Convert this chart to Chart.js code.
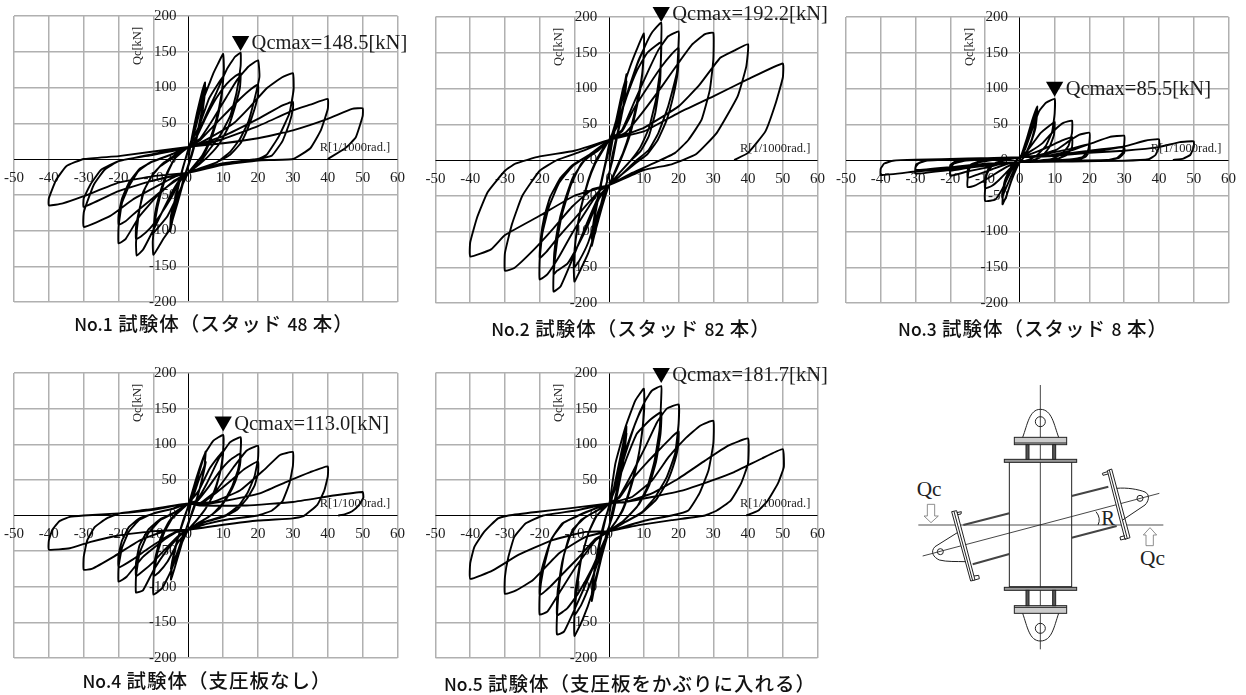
<!DOCTYPE html>
<html lang="ja">
<head>
<meta charset="utf-8">
<title>試験体 Qc-R</title>
<script src="https://cdn.jsdelivr.net/npm/chart.js@4"></script>
<style>
  html, body { margin: 0; padding: 0; background: #fff; }
  body { position: relative; width: 1246px; height: 695px; overflow: hidden; }
  canvas { position: absolute; }
  .caption {
    position: absolute; transform: translate(-50%, -50%); white-space: nowrap;
    font: 500 19.5px "Noto Sans CJK JP", "Noto Sans", sans-serif; letter-spacing: 1px; color: #111;
  }
  .caption span { font-size: 17.5px; letter-spacing: 0; }
  #diagram { position: absolute; left: 900px; top: 370px; }
  #diagram text { font-family: "Liberation Serif", serif; fill: #222; }
</style>
</head>
<body>
<canvas id="c1" width="427" height="320" style="left:-12px;top:0"></canvas>
<canvas id="c2" width="420" height="320" style="left:415px;top:0"></canvas>
<canvas id="c3" width="426" height="320" style="left:820px;top:0"></canvas>
<canvas id="c4" width="427" height="320" style="left:-12px;top:355px"></canvas>
<canvas id="c5" width="420" height="320" style="left:415px;top:355px"></canvas>

<div class="caption" style="left:214px;top:322px"><span>No.1</span> 試験体（スタッド <span>48</span> 本）</div>
<div class="caption" style="left:631px;top:327px"><span>No.2</span> 試験体（スタッド <span>82</span> 本）</div>
<div class="caption" style="left:1033px;top:327px"><span>No.3</span> 試験体（スタッド <span>8</span> 本）</div>
<div class="caption" style="left:207px;top:679px"><span>No.4</span> 試験体（支圧板なし）</div>
<div class="caption" style="left:630px;top:682px"><span>No.5</span> 試験体（支圧板をかぶりに入れる）</div>

<!-- loading setup sketch, coordinates are 3x the page pixels -->
<svg id="diagram" width="300" height="300" viewBox="0 0 900 900" fill="none" stroke="#222" stroke-width="3">
  <line x1="55" y1="465" x2="790" y2="465" stroke="#888" stroke-width="5"/>
  <line x1="421" y1="45" x2="421" y2="838" stroke-width="2.5"/>
  <line x1="68" y1="558" x2="778" y2="370" stroke-width="2.5"/>
  <rect x="328" y="275" width="187" height="375"/>
  <rect x="313" y="268" width="217" height="9" fill="#999"/>
  <rect x="313" y="652" width="217" height="9" fill="#999"/>
  <rect x="343" y="202" width="157" height="22" fill="#ccc"/>
  <line x1="343" y1="219" x2="500" y2="219"/>
  <rect x="343" y="707" width="157" height="23" fill="#ccc"/>
  <line x1="343" y1="712" x2="500" y2="712"/>
  <rect x="378" y="224" width="9" height="44" fill="#555"/>
  <rect x="458" y="224" width="9" height="44" fill="#555"/>
  <rect x="378" y="661" width="9" height="46" fill="#555"/>
  <rect x="458" y="661" width="9" height="46" fill="#555"/>
  <path d="M368 202 C382 165 388 118 421 118 C456 118 462 165 476 202"/>
  <path d="M368 730 C382 770 388 813 421 813 C456 813 462 770 476 730"/>
  <circle cx="421" cy="155" r="15"/>
  <circle cx="421" cy="775" r="15"/>
  <path d="M515 378 L625 350 M515 503 L650 468 M190 465 L328 430 M218 583 L328 552" stroke="#444" stroke-width="6"/>
  <path d="M622 302 L635 297 L690 503 L675 508 Z M155 425 L170 422 L225 630 L212 633 Z" fill="#fff"/>
  <path d="M628 300 L682 506 M162 424 L218 632"/>
  <path d="M622 305 L607 310 L609 316 L624 312 M675 497 L660 501 L662 510 L678 506 M170 428 L184 425 L183 432 L172 434 M222 618 L236 616 L238 626 L224 630"/>
  <path d="M650 355 C680 352 715 358 735 366 C752 375 745 395 735 405 L668 450"/>
  <path d="M172 488 L105 530 C90 545 100 562 118 570 C140 576 170 574 197 575"/>
  <circle cx="720" cy="385" r="9"/>
  <circle cx="121" cy="545" r="9"/>
  <path d="M588 425 Q604 445 594 465"/>
  <text x="604" y="465" font-size="62" stroke="none">R</text>
  <text x="50" y="378" font-size="64" stroke="none">Qc</text>
  <text x="720" y="585" font-size="64" stroke="none">Qc</text>
  <path d="M82 403 H104 V438 H115 L93 458 L72 438 H82 Z" stroke-width="2.5" stroke="#777"/>
  <path d="M738 527 H760 V495 H770 L750 473 L730 495 H738 Z" stroke-width="2.5" stroke="#777"/>
</svg>

<script>
// [R, Qc] in the order the loading history runs
const no1Path = [
  [0,0],[1,30],[2.5,65],[4,95],[4.8,107],[4.6,85],[3.5,50],[2,22],[1,5],[0,-10],
  [-1,-25],[-3,-60],[-4.5,-85],[-5.2,-101],[-5,-80],[-3.5,-50],[-2,-20],[-1,-3],[0,12],
  [1.5,35],[3,65],[4.5,95],[5,100],[4,70],[2.5,35],[1,8],[0,-8],
  [-1.5,-30],[-3,-60],[-4.5,-85],[-5,-92],[-3.8,-60],[-2.2,-25],[-1,-3],[0,14],
  [2,42],[4,80],[6,105],[7.2,120],[8.5,133],[10,147],[10.2,125],[9.5,90],[8,55],[6,25],[4,5],[2,-7],[0,-19],
  [-2,-40],[-4,-70],[-5.3,-98],[-7.2,-112],[-10,-134],[-10.2,-115],[-9.5,-85],[-8,-50],[-6,-20],[-4,0],[-2,10],[0,17],
  [3,45],[6,85],[8.5,105],[10,115],[9.5,85],[8,50],[6,22],[4,3],[2,-8],[0,-19],
  [-3,-50],[-6,-80],[-8.5,-95],[-10,-103],[-9.5,-75],[-8,-45],[-6,-18],[-4,0],[-2,9],[0,17],
  [2.4,32],[5.3,64],[8,92],[11,125],[13.4,143],[15,148.5],[15,130],[13.8,92],[12,60],[9,32],[6,13],[3.3,-5],[0,-19],
  [-2,-26],[-4.3,-43],[-7.2,-71],[-10,-99],[-13,-127],[-14.8,-135],[-15,-117],[-14.3,-80],[-13,-47],[-10.5,-24],[-8,-10],[-5,0],[-2.4,8],[0,17],
  [2.5,32],[5,58],[8,85],[11,105],[13.5,116],[15,120],[14.8,100],[13.5,75],[11.5,45],[9,22],[6,5],[3,-8],[0,-19],
  [-2.5,-32],[-5,-55],[-8,-78],[-11,-97],[-13.5,-108],[-15,-112],[-15,-95],[-14,-70],[-12.5,-42],[-10,-20],[-7,-5],[-4,5],[0,17],
  [3.3,28],[7,55],[11,87],[13.9,110],[17.2,129],[20,138],[20.4,115],[19,84],[17.2,52],[14.8,28],[12,10],[8,-5],[3.3,-13],[0,-19],
  [-4.3,-31],[-9,-52],[-14,-80],[-18,-112],[-20,-118],[-20,-94],[-19,-61],[-17,-38],[-14.3,-17],[-11,-5],[-6,4],[0,17],
  [3.5,27],[7,45],[11,65],[15,85],[18,98],[20,104],[20,90],[19,70],[17,42],[15,22],[12,6],[8,-5],[3.5,-13],[0,-19],
  [-3.5,-30],[-7,-42],[-11,-58],[-15,-74],[-18,-87],[-20,-92],[-20,-78],[-19,-55],[-17,-33],[-14,-14],[-10,-3],[-5,6],[0,17],
  [1.4,18],[7,32],[13,50],[17.7,73],[22.5,99],[26.8,114],[30,120],[30.2,97],[29,64],[26,32],[22.5,6],[20,0],[13,-5],[5,-12],[0,-19],
  [-3.5,-24],[-9,-38],[-16,-57],[-22.5,-80],[-30,-95],[-30,-75],[-29,-60],[-27,-35],[-24,-15],[-20,-3],[-10,6],[0,16],
  [10,32],[20,56],[27,75],[30,80],[30,70],[29,50],[27,25],[24,5],[20,0],[10,-6],[0,-19],
  [-10,-30],[-20,-45],[-30,-67],[-30,-55],[-28,-35],[-25,-15],[-20,-3],[-10,7],[0,16],
  [10,28],[20,46],[30,68],[35,76],[40,84],[40,70],[38,40],[35,15],[30,0],[20,-2],[10,-8],[0,-19],
  [-10,-24],[-20,-33],[-30,-52],[-36,-62],[-40,-65],[-40,-55],[-38,-30],[-35,-10],[-30,0],[-20,4],[0,17],
  [10,22],[20,29],[30,40],[40,56],[47,70],[50,71],[50,60],[48,30],[45,15],[40,0]
];
const no2Path = [
  [0,0],[1,28],[2.5,60],[4,95],[5,120],[4.5,90],[3.5,60],[2,25],[1,0],[0,-18],
  [-1,-38],[-2.5,-70],[-4,-100],[-5,-120],[-4.5,-90],[-3,-50],[-1.5,-15],[-0.5,5],[0,16],
  [1.5,40],[3,68],[4.5,100],[5,110],[4,72],[2.5,40],[1,8],[0,-20],
  [-1.5,-45],[-3,-75],[-4.5,-102],[-5,-110],[-4,-70],[-2.5,-35],[-1,-2],[0,22],
  [2,55],[4,100],[6,130],[8,155],[10,177],[10,150],[9.3,110],[8,75],[6,35],[4,8],[2,-15],[0,-35],
  [-2,-65],[-4,-100],[-6,-130],[-8.7,-158],[-10,-170],[-10.2,-145],[-9.5,-105],[-8,-65],[-6,-30],[-4,-5],[-2,12],[0,28],
  [3,60],[6,105],[8.5,140],[10,155],[9.5,120],[8,80],[6,40],[4,10],[2,-12],[0,-35],
  [-3,-70],[-6,-115],[-8.5,-140],[-10,-150],[-9.7,-115],[-8.3,-70],[-6,-28],[-4,-3],[-2,14],[0,28],
  [2.3,47],[4.7,84],[7.5,126],[10.4,160],[12.3,178],[15,192.2],[15,165],[14.7,112],[13.3,66],[11.4,33],[9,12],[6,-2],[3,-18],[0,-35],
  [-3,-51],[-6.8,-93],[-10.6,-139],[-14,-177],[-16,-184],[-16,-160],[-15,-115],[-13.5,-75],[-11,-35],[-8,-5],[-4,12],[0,28],
  [2.5,50],[5,88],[8,125],[11,150],[13.5,160],[15,165],[14.8,130],[13.5,85],[11.5,45],[9,18],[6,-2],[3,-18],[0,-35],
  [-3,-55],[-6,-90],[-9,-120],[-12,-145],[-15,-155],[-16,-160],[-15.8,-130],[-14.8,-95],[-13,-60],[-10.5,-25],[-7,0],[-3,14],[0,28],
  [3.7,42],[7.5,84],[11.4,126],[14.2,154],[17,173],[20,180],[20,164],[19.5,122],[17,75],[14.2,38],[11.4,14],[7.5,-2],[3.7,-20],[0,-35],
  [-2.5,-41],[-5.8,-65],[-10.6,-102],[-14.4,-135],[-17.8,-160],[-20,-167],[-20,-139],[-19.2,-102],[-17.3,-65],[-14.4,-32],[-10.6,-9],[-5.8,7],[0,28],
  [3.7,40],[7.5,75],[11.5,105],[15,130],[18,148],[20,157],[19.8,125],[18.5,90],[16.5,55],[14,28],[11,8],[7.5,-5],[3.7,-20],[0,-35],
  [-2.5,-42],[-6,-60],[-10.5,-85],[-15,-110],[-18,-128],[-20,-137],[-19.7,-110],[-18.7,-80],[-17,-52],[-14,-25],[-10.5,-7],[-5.5,8],[0,28],
  [4.7,38],[9.5,66],[15.2,103],[20,136],[23.8,161],[27.6,176],[30,178],[30,140],[29,98],[26.6,56],[22.8,28],[19,10],[14,-2],[6.6,-18],[0,-35],
  [-4.9,-41],[-10.6,-65],[-16.3,-97],[-21.6,-125],[-27.3,-151],[-30,-155],[-30,-130],[-28,-90],[-25,-50],[-20,-15],[-15,0],[-8,12],[0,28],
  [10,45],[20,75],[26,105],[32,143],[36,153],[40,162],[39.5,131],[37,89],[31,38],[25,8],[18,-6],[10,-14],[0,-35],
  [-10,-50],[-20,-78],[-30,-105],[-34,-125],[-40,-135],[-40,-115],[-38,-80],[-35,-45],[-30,-15],[-27,-5],[-20,5],[-10,13],[0,28],
  [10,40],[20,66],[30,89],[40,113],[50,135],[50,115],[48,80],[45,40],[40,10],[36,0]
];
const no3Path = [
  [0,0],[1,15],[2,30],[3.5,55],[5,75],[4.7,55],[3.5,30],[2,12],[1,3],[0,-3],
  [-1,-12],[-2.5,-30],[-4,-52],[-5,-62],[-4.8,-45],[-3.5,-22],[-2,-8],[-1,0],[0,4],
  [1,12],[2.5,32],[4,55],[5,68],[4.5,45],[3,22],[1.5,6],[0,-3],
  [-1.5,-12],[-3,-28],[-4.5,-45],[-5,-52],[-4.5,-32],[-3,-14],[-1.5,-3],[0,4],
  [1.5,15],[3.5,42],[5.5,68],[7.5,80],[10,85.5],[10,65],[9.3,40],[7.5,20],[5,7],[2.5,0],[0,-3],
  [-1.5,-8],[-3,-20],[-5,-40],[-7,-55],[-8.5,-57],[-10,-57],[-10,-40],[-9.5,-20],[-8,-8],[-5,-1],[-2.5,2],[0,4],
  [2,12],[4,25],[6,38],[8.5,48],[10,53],[9.8,35],[8.5,18],[6.5,6],[4,0],[2,-2],[0,-3],
  [-2,-8],[-4,-18],[-6,-28],[-8,-36],[-10,-40],[-10,-25],[-9,-12],[-7,-4],[-4,0],[-2,2],[0,4],
  [3,12],[6.6,24],[10,42],[12.5,52],[15,55],[15,38],[14,20],[12,8],[9,1],[5,-1],[0,-3],
  [-3,-8],[-6,-16],[-10,-28],[-13,-36],[-15,-38],[-15,-25],[-14.5,-12],[-12.5,-4],[-8,0],[-4,2],[0,4],
  [4,10],[8,18],[12,27],[15,32],[15,18],[13.5,7],[11,2],[6,-1],[0,-3],
  [-4,-6],[-8,-13],[-12,-20],[-15,-25],[-15,-14],[-14,-6],[-11,-1],[-6,1],[0,4],
  [4.7,6],[10.4,14],[14,26],[17,35],[20,38],[20,25],[19.5,12],[18,4],[15,1],[8,-1],[0,-3],
  [-5,-5],[-10,-11],[-15,-16],[-20,-22],[-20,-12],[-19,-5],[-16,-1],[-10,1],[-4,3],[0,4],
  [5,6],[10,11],[15,16],[20,22],[20,12],[19,5],[17,1],[10,-1],[0,-3],
  [-5,-4],[-10,-8],[-15,-11],[-20,-15],[-20,-7],[-18.5,-2],[-14,0],[-7,2],[0,4],
  [6.6,5],[14,12],[21,24],[25.7,32],[30,34],[30,22],[29.5,10],[28,3],[25,0],[12,-1],[0,-3],
  [-7,-5],[-14,-10],[-22,-15],[-30,-19],[-30,-10],[-29,-4],[-26,0],[-14,2],[0,4],
  [8,5],[16,10],[24,14],[30,18],[30,10],[28.5,3],[25,0],[12,-1],[0,-3],
  [-10,-5],[-20,-10],[-30,-14],[-29.8,-6],[-27,-1],[-15,1.5],[0,4],
  [10,7],[20,13],[30,19],[36,27],[40,29],[40,18],[39,7],[37,1],[30,-1],[15,-2],[0,-3],
  [-10,-7],[-20,-12],[-30,-16],[-40,-21],[-40,-12],[-39,-5],[-36.5,-1],[-30,0.5],[-15,2],[0,4],
  [10,6],[20,10],[30,13],[40,18],[46,25],[50,26],[50,18],[49,7],[47,2],[44,0]
];
const no4Path = [
  [0,0],[1,22],[2.5,50],[4,75],[5,90],[4.6,68],[3.5,42],[2,16],[1,2],[0,-10],
  [-1,-25],[-2.5,-50],[-4,-75],[-5,-90],[-4.6,-68],[-3.5,-42],[-2,-15],[-1,0],[0,12],
  [1.5,28],[3,50],[4.5,68],[5,75],[4,52],[2.5,25],[1,4],[0,-12],
  [-1.5,-28],[-3,-50],[-4.5,-68],[-5,-75],[-4,-50],[-2.5,-24],[-1,-2],[0,14],
  [2.4,54],[4.8,87],[7.2,105],[10,113],[10,92],[9.2,62],[7.5,32],[5,10],[2.5,-6],[0,-20],
  [-2.4,-45],[-5,-78],[-7.5,-102],[-10,-111],[-10,-88],[-9,-55],[-7,-25],[-4.5,-3],[-2,8],[0,17],
  [3,35],[6,65],[8.5,82],[10,90],[9.5,68],[8,42],[6,18],[3.5,0],[0,-20],
  [-3,-38],[-6,-65],[-8.5,-80],[-10,-85],[-9.5,-60],[-8,-32],[-5.5,-8],[-2.5,7],[0,17],
  [2.4,21],[5.3,45],[9,82],[12,103],[15,110],[15,90],[14.3,65],[12.5,40],[10,18],[7,2],[3.5,-9],[0,-20],
  [-2.4,-28],[-6.2,-49],[-10,-77],[-13,-105],[-15,-108],[-15,-86],[-14,-53],[-11.5,-25],[-8,-6.5],[-4.3,3],[0,17],
  [2.5,20],[5.5,38],[9,62],[12,78],[15,87],[14.8,70],[13.5,48],[11.5,28],[9,10],[5.5,-3],[3,-10],[0,-20],
  [-2.5,-27],[-6,-44],[-10,-65],[-13,-78],[-15,-85],[-15,-66],[-14,-42],[-11.5,-20],[-8,-5],[-4,4],[0,17],
  [3.3,17],[8,35],[13,68],[16.7,91],[20,98],[20,80],[19,55],[17,32],[14.5,14],[11,1],[6,-7],[3,-12],[0,-20],
  [-3.3,-23],[-7.2,-35],[-13,-58],[-17.7,-86],[-20,-93],[-20,-72],[-19,-45],[-17,-22],[-14,-6],[-10,3],[-5,9],[0,17],
  [4,18],[8,32],[12,48],[16,65],[20,76],[20,60],[19,42],[17,25],[14,8],[10,-2],[5,-9],[0,-20],
  [-4,-24],[-8,-35],[-12,-48],[-16,-62],[-20,-73],[-20,-55],[-19,-35],[-17,-16],[-14,-4],[-9,4],[-4,10],[0,17],
  [7,19],[14.8,35],[21.5,63],[26.3,85],[30,89],[30,70],[29,45],[27,20],[24,7],[20,0],[12,-5],[5,-12],[0,-20],
  [-6.2,-21],[-13.9,-35],[-21.5,-58],[-27.7,-75],[-30,-76],[-30,-58],[-29,-35],[-26.8,-16],[-23.4,-4],[-19.6,3],[-12,8],[0,17],
  [3.3,15],[11,21],[20.5,31],[28,47],[35,61],[40,69],[40,55],[39,35],[37,15],[33,-1],[30,-4],[20,-7],[10,-13],[0,-20],
  [-10,-22],[-20,-28],[-28,-37],[-34,-46],[-40,-48],[-40,-35],[-39,-20],[-37,-8],[-34,-2],[-30,0],[-20,3],[-10,8],[0,17],
  [3.3,14],[16.7,14],[30,19],[41.6,28],[50,33],[50.2,25],[49,15],[47,6],[45,2],[43,0]
];
const no5Path = [
  [0,0],[1,30],[2.5,65],[4,100],[5,125],[4.6,95],[3.5,60],[2,22],[1,0],[0,-15],
  [-1,-30],[-2.5,-65],[-4,-95],[-5,-120],[-4.6,-90],[-3.5,-55],[-2,-20],[-1,-2],[0,12],
  [1.5,38],[3,70],[4.5,100],[5,115],[4,78],[2.5,42],[1,8],[0,-15],
  [-1.5,-40],[-3,-72],[-4.5,-100],[-5,-110],[-4,-72],[-2.5,-36],[-1,-4],[0,14],
  [1.8,73],[4.7,124],[7.5,161],[10,178],[10.1,150],[9.3,110],[8,72],[6,35],[4,8],[2,-8],[0,-22],
  [-2,-55],[-4.9,-109],[-7.7,-147],[-10,-169],[-10,-140],[-9.2,-100],[-8,-60],[-6,-25],[-4,-3],[-2,8],[0,17],
  [2.5,55],[5,95],[8,135],[10,155],[9.6,120],[8.3,80],[6,38],[4,10],[2,-8],[0,-22],
  [-2.5,-55],[-5,-90],[-8,-125],[-10,-140],[-9.7,-105],[-8.3,-65],[-6,-25],[-3.5,0],[0,17],
  [1.8,40],[4.7,87],[7.5,129],[10.4,161],[12.3,175],[15,181.7],[15,165],[14.5,120],[13,75],[11,40],[8,12],[4,-8],[0,-22],
  [-2,-44],[-5.8,-86],[-9.6,-128],[-13,-163],[-15,-167],[-15,-140],[-14.3,-95],[-13,-55],[-10.5,-20],[-7,-3],[-3,8],[0,17],
  [2,40],[5,80],[8,115],[12,135],[15,145],[14.8,115],[13.5,75],[11.5,42],[8.5,15],[4,-8],[0,-22],
  [-2,-42],[-5,-75],[-9,-110],[-12,-130],[-15,-140],[-14.8,-105],[-13.5,-65],[-11.5,-30],[-8,-6],[-3.5,7],[0,17],
  [2.8,26],[6.6,59],[10.4,96],[13.8,131],[16.6,150],[20,156],[20,129],[19,87],[16.6,54],[13.3,26],[9.5,5],[4.7,-9],[0,-22],
  [-3.9,-35],[-9.6,-72],[-14.4,-109],[-17.8,-135],[-20,-139],[-20,-111],[-19,-77],[-16.8,-35],[-13.5,-11],[-8.7,0],[-3.9,10],[0,17],
  [3,25],[6.5,50],[11,75],[15,95],[18,110],[20,118],[19.8,95],[18.5,70],[16.5,45],[13.5,22],[9.5,4],[4.7,-9],[0,-22],
  [-4,-33],[-9,-60],[-13,-80],[-17,-100],[-20,-112],[-19.8,-85],[-18.5,-60],[-16.5,-32],[-13,-10],[-8.5,1],[-4,10],[0,17],
  [6.6,26],[12.3,49],[17.1,82],[21.9,108],[26.2,126],[30,133],[30,101],[28.6,63],[26,31],[22.8,7],[18,0],[10.4,-7],[0,-22],
  [-6.8,-30],[-14.4,-53],[-22,-91],[-26.8,-105],[-30,-110],[-30,-86],[-29,-58],[-27.3,-30],[-24,-11],[-19,0],[-9.6,7],[0,17],
  [4.7,19],[12.3,31],[20,52],[27.6,77],[34.3,98],[40,108],[40,73],[38,45],[35,21],[31,7],[27.6,0],[18,-6.5],[8.5,-13.5],[0,-22],
  [-6.8,-23],[-16.3,-34.5],[-26,-55],[-33.5,-77],[-40,-89],[-40,-67],[-38.8,-44],[-36,-23],[-32,-4],[-29,0],[-21,5],[-11.6,10],[0,17],
  [4.7,19],[12.3,26],[21,35],[29.5,49],[36,61],[44,80],[50,93],[50.3,68],[48.6,45],[45.7,21],[43,7],[39.5,0]
];

// the peak marker (triangle) with its note, [R, Qc]
const no1Mark = [15, 165],   no1Note = "Qcmax=148.5[kN]";
const no2Mark = [15, 207],   no2Note = "Qcmax=192.2[kN]";
const no3Mark = [10, 102.5], no3Note = "Qcmax=85.5[kN]";
const no4Mark = [10, 132],   no4Note = "Qcmax=113.0[kN]";
const no5Mark = [15, 200],   no5Note = "Qcmax=181.7[kN]";

const xLabel = "R[1/1000rad.]";
const yLabel = "Qc[kN]";

const textColor = "#1c1c1c";
const serif = "Liberation Serif";

// notes and axis names, placed with the chart's own scales
const notesPlugin = {
  id: "notes",
  afterDatasetsDraw(chart, args, opts) {
    const { ctx, scales: { x, y } } = chart;
    ctx.save();
    ctx.fillStyle = textColor;
    ctx.textBaseline = "middle";

    ctx.textAlign = "left";
    ctx.font = `20.5px "${serif}"`;
    ctx.fillText(opts.note, x.getPixelForValue(opts.mark[0]) + 11, y.getPixelForValue(opts.mark[1]) + 3);

    ctx.textAlign = "center";
    ctx.font = `12.5px "${serif}"`;
    ctx.fillText(xLabel, x.getPixelForValue(47.8), y.getPixelForValue(16));

    ctx.translate(x.getPixelForValue(-14.4), y.getPixelForValue(158));
    ctx.rotate(-Math.PI / 2);
    ctx.fillText(yLabel, 0, 0);
    ctx.restore();
  }
};

function makeChart(id, path, mark, note, pad) {
  const gridColor = c => c.tick.value === 0 ? "#000" : "#b0b0b0";
  const gridWidth = c => c.tick.value === 0 ? 1 : 1.5;
  return new Chart(document.getElementById(id), {
    type: "scatter",
    data: {
      datasets: [
        {
          data: path.map(p => ({ x: p[0], y: p[1] })),
          showLine: true, borderColor: "#000", borderWidth: 1.9, tension: 0.12, pointRadius: 0
        },
        {
          data: [{ x: mark[0], y: mark[1] }],
          pointStyle: "triangle", rotation: 180, pointRadius: 10,
          backgroundColor: "#000", borderWidth: 0, clip: false
        }
      ]
    },
    plugins: [notesPlugin],
    options: {
      responsive: false,
      animation: false,
      events: [],
      layout: { padding: pad },
      plugins: { legend: { display: false }, tooltip: { enabled: false }, notes: { mark, note } },
      scales: {
        x: {
          type: "linear", min: -50, max: 60, position: { y: 0 },
          border: { display: false },
          grid: { color: gridColor, lineWidth: gridWidth, drawTicks: false },
          ticks: { stepSize: 10, padding: 10, maxRotation: 0, autoSkip: false, color: textColor, font: { family: serif, size: 15 } }
        },
        y: {
          type: "linear", min: -200, max: 200, position: { x: -3.4 },
          border: { display: false },
          grid: { color: gridColor, lineWidth: gridWidth, drawTicks: false },
          ticks: { stepSize: 50, padding: 0, autoSkip: false, color: textColor, font: { family: serif, size: 15 } }
        }
      }
    }
  });
}

makeChart("c1", no1Path, no1Mark, no1Note, { left: 26, top: 16, right: 17, bottom: 18 });
makeChart("c2", no2Path, no2Mark, no2Note, { left: 20.5, top: 17, right: 16, bottom: 17 });
makeChart("c3", no3Path, no3Mark, no3Note, { left: 26, top: 17, right: 16, bottom: 17 });
makeChart("c4", no4Path, no4Mark, no4Note, { left: 26, top: 18, right: 17, bottom: 17 });
makeChart("c5", no5Path, no5Mark, no5Note, { left: 20.5, top: 18, right: 15, bottom: 17 });
</script>
</body>
</html>
